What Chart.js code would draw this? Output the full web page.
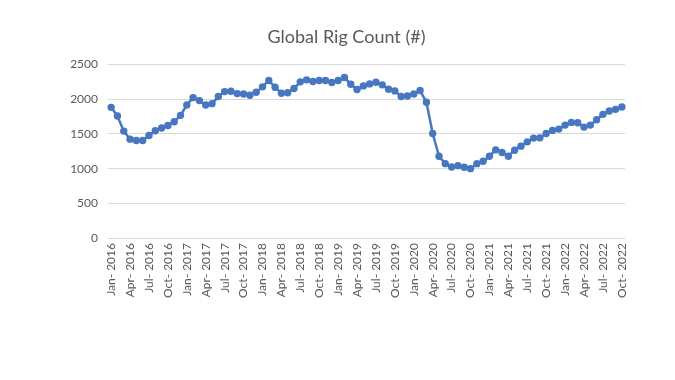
<!DOCTYPE html>
<html>
<head>
<meta charset="utf-8">
<script src="https://cdn.jsdelivr.net/npm/chart.js@4"></script>
<style>
  html, body { margin: 0; padding: 0; background: #fff; }
  #wrap { width: 675px; height: 380px; }
</style>
</head>
<body>
<div id="wrap"><canvas id="rigChart"></canvas></div>
<script>
// monthly labels Jan 2016 .. Oct 2022
const months = ["Jan", "Feb", "Mar", "Apr", "May", "Jun", "Jul", "Aug", "Sep", "Oct", "Nov", "Dec"];
const years = [2016, 2017, 2018, 2019, 2020, 2021, 2022];
const yTicks = [0, 500, 1000, 1500, 2000, 2500];

const rigCount = [
  1884, 1758, 1541, 1425, 1406, 1406, 1478, 1546, 1585, 1623, 1676, 1768,
  1918, 2024, 1981, 1918, 1937, 2039, 2111, 2116, 2082, 2077, 2058, 2101,
  2179, 2271, 2174, 2087, 2095, 2155, 2251, 2280, 2256, 2271, 2271, 2242,
  2271, 2314, 2217, 2140, 2193, 2222, 2246, 2208, 2145, 2121, 2039, 2048,
  2077, 2126, 1957, 1507, 1179, 1072, 1024, 1043, 1019, 1000, 1072, 1106,
  1179, 1271, 1232, 1179, 1266, 1324, 1386, 1440, 1444, 1507, 1551, 1570,
  1628, 1667, 1662, 1599, 1628, 1705, 1783, 1831, 1855, 1889
];

const labels = [];
years.forEach(y => months.forEach(m => labels.push(m + "- " + y)));
labels.length = rigCount.length;

const grey = "#595959";
const font = "Lato, 'Liberation Sans', sans-serif";

new Chart(document.getElementById("rigChart"), {
  type: 'line',
  data: {
    labels: labels,
    datasets: [{
      label: "Global Rig Count",
      data: rigCount,
      borderColor: "#4677c0",
      backgroundColor: "#4677c0",
      borderWidth: 2.5,
      pointRadius: 3.7,
      pointHoverRadius: 3.7,
      pointBorderWidth: 0,
      tension: 0
    }]
  },
  options: {
    responsive: true,
    maintainAspectRatio: false,
    animation: false,
    layout: { padding: { left: 68, right: 50, top: 0, bottom: 0 } },
    plugins: {
      legend: { display: false },
      tooltip: { enabled: false },
      title: {
        display: true,
        text: 'Global Rig Count (#)',
        color: grey,
        font: { family: font, size: 18, weight: 'normal' },
        padding: { top: 26, bottom: 17 }
      }
    },
    scales: {
      x: {
        offset: true,
        grid: { display: false, drawTicks: false },
        border: { display: false },
        afterFit: s => { s.height = 142; },
        ticks: {
          autoSkip: false,
          maxRotation: 90,
          minRotation: 90,
          padding: 5,
          color: grey,
          font: { family: font, size: 12 },
          callback: function (v, i) { return i % 3 === 0 ? this.getLabelForValue(v) : ''; }
        }
      },
      y: {
        min: 0,
        max: 2500,
        afterFit: s => { s.width = 40; },
        afterBuildTicks: s => { s.ticks = yTicks.map(v => ({ value: v })); },
        grid: { color: "#d9d9d9", lineWidth: 1, drawTicks: false },
        border: { display: false },
        ticks: {
          padding: 10,
          color: grey,
          font: { family: font, size: 12 },
          callback: v => String(v)
        }
      }
    }
  }
});
</script>
</body>
</html>
